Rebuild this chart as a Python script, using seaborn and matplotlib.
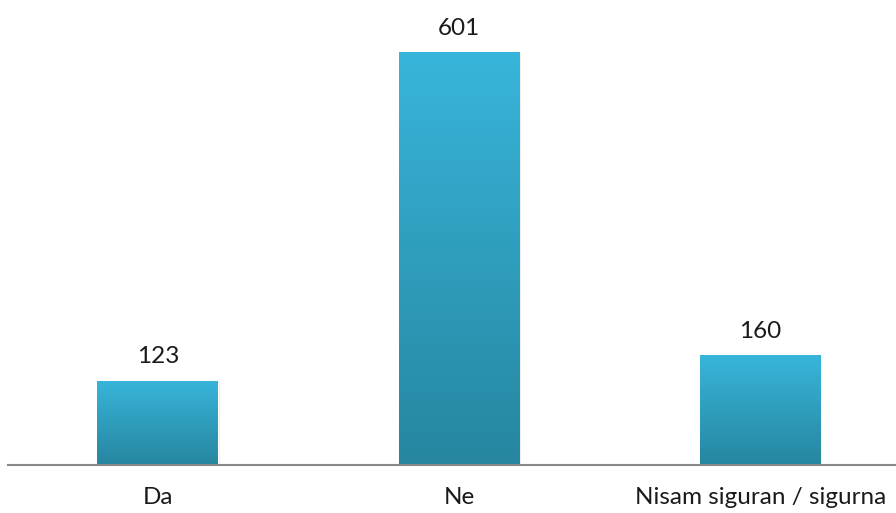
import matplotlib
matplotlib.use("Agg")
import matplotlib.pyplot as plt
import numpy as np
import pandas as pd
import seaborn as sns
from matplotlib.colors import LinearSegmentedColormap

categories = ["Da", "Ne", "Nisam siguran / sigurna"]
counts = [123, 601, 160]

sns.set_style("white")
plt.rcParams["font.family"] = ["Lato", "DejaVu Sans"]

df = pd.DataFrame({"answer": categories, "count": counts})

fig = plt.figure(figsize=(8.96, 5.13), dpi=100)
ax = fig.add_axes([8 / 896, 48 / 513, 1 - 8 / 896, 465 / 513])

sns.barplot(data=df, x="answer", y="count", color="#33b0d4", width=0.4, ax=ax, zorder=2)

# vertical gradient fill inside each bar
grad = LinearSegmentedColormap.from_list("bar", ["#2686a0", "#38b5da"])
gradient = np.linspace(0, 1, 256).reshape(-1, 1)
for bar in ax.patches:
    x0, y0 = bar.get_x(), bar.get_y()
    w, h = bar.get_width(), bar.get_height()
    # soft shadow
    ax.add_patch(plt.Rectangle((x0 + 0.006, y0), w, h - 2, color="#000000", alpha=0.08, zorder=1, lw=0))
    im = ax.imshow(gradient, cmap=grad, origin="lower", aspect="auto",
                   extent=[x0, x0 + w, y0, y0 + h], zorder=3)
    im.set_clip_path(bar)

for bar, v in zip(ax.patches, counts):
    ax.text(bar.get_x() + bar.get_width() / 2, v + 19, str(v), ha="center", va="bottom",
            fontsize=17.5, color="#1a1a1a")

ax.set_xlim(-0.497, 2.45)
ax.set_ylim(0, 677)
ax.set_xlabel("")
ax.set_ylabel("")
ax.set_yticks([])
ax.tick_params(axis="x", length=0, pad=16, labelsize=17.5, labelcolor="#1a1a1a")
for s in ["top", "right", "left"]:
    ax.spines[s].set_visible(False)
ax.spines["bottom"].set_color("#898989")
ax.spines["bottom"].set_linewidth(1.5)
ax.spines["bottom"].set_zorder(5)

fig.savefig("out.png", dpi=100)
